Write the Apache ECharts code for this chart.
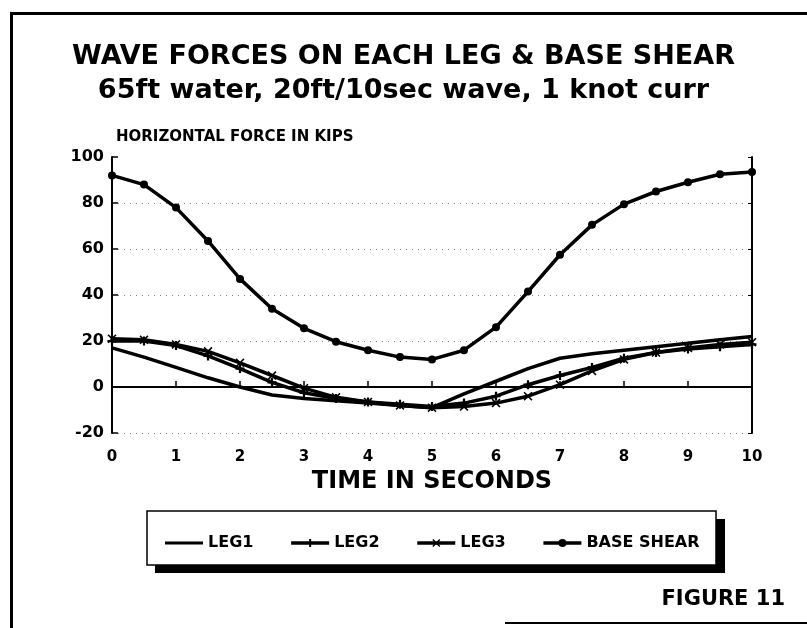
<!DOCTYPE html>
<html>
<head>
<meta charset="utf-8">
<script src="https://cdn.jsdelivr.net/npm/echarts@6/dist/echarts.min.js"></script>
<style>
  html, body { margin: 0; padding: 0; background: #fff; }
  #chart { width: 807px; height: 628px; }
</style>
</head>
<body>
<div id="chart"></div>
<script>
// time in seconds, one point each half second
const times = [0, 0.5, 1, 1.5, 2, 2.5, 3, 3.5, 4, 4.5, 5, 5.5, 6, 6.5, 7, 7.5, 8, 8.5, 9, 9.5, 10];
const leg1 = [17, 13, 8.5, 4, 0, -3.5, -5, -6, -7, -8, -9, -3, 2.5, 8, 12.5, 14.5, 16, 17.5, 19, 20.5, 22];
const leg2 = [20, 20, 18, 13.5, 8, 2, -2.5, -5, -6.5, -7.5, -8.5, -7, -4, 1, 5, 8.5, 12.5, 15, 16.5, 17.5, 18.5];
const leg3 = [21, 20.5, 18.5, 15.5, 10.5, 5, -0.5, -4.5, -6.5, -8, -9, -8.5, -7, -4, 1, 7, 12, 15, 17, 18.5, 19.5];
const baseShear = [92, 88, 78, 63.5, 47, 34, 25.5, 19.7, 16, 13, 12, 16, 26, 41.5, 57.5, 70.5, 79.5, 85, 89, 92.5, 93.5];
const seriesNames = ['LEG1', 'LEG2', 'LEG3', 'BASE SHEAR'];

const FONT = 'DejaVu Sans';

function pairs(vals) {
    return times.map((t, i) => [t, vals[i]]);
}

const chart = echarts.init(document.getElementById('chart'));

const baseLine = {
    type: 'line',
    smooth: false,
    lineStyle: { color: '#000', width: 3.5 },
    itemStyle: { color: '#000' },
    z: 3
};

// plain bar for the LEG1 legend key (tiny corner dots keep the box 38x10)
const plainKey = 'path://M0,3.6H38V6.4H0Z M0,0H0.05V0.05H0Z M37.95,9.95H38V10H37.95Z';

const option = {
    animation: false,
    backgroundColor: '#fff',
    title: [
        {
            text: 'WAVE FORCES ON EACH LEG & BASE SHEAR',
            left: 'center',
            top: 38,
            textStyle: { fontFamily: FONT, fontWeight: 'bold', fontSize: 27, color: '#000' }
        },
        {
            text: '65ft water, 20ft/10sec wave, 1 knot curr',
            left: 'center',
            top: 72,
            textStyle: { fontFamily: FONT, fontWeight: 'bold', fontSize: 27, color: '#000' }
        }
    ],
    grid: { left: 112, right: 55, top: 157, bottom: 195 },
    legend: {
        data: [
            { name: 'LEG1', icon: plainKey },
            'LEG2', 'LEG3', 'BASE SHEAR'
        ],
        left: 160,
        top: 530,
        itemWidth: 38,
        itemHeight: 10,
        itemGap: 36,
        lineStyle: { width: 3.5, color: '#000' },
        textStyle: { fontFamily: FONT, fontWeight: 'bold', fontSize: 16, color: '#000' }
    },
    xAxis: {
        type: 'value',
        min: 0,
        max: 10,
        interval: 1,
        name: 'TIME IN SECONDS',
        nameLocation: 'middle',
        nameGap: 37,
        nameTextStyle: { fontFamily: FONT, fontWeight: 'bold', fontSize: 24, color: '#000' },
        axisLine: { lineStyle: { color: '#000', width: 2 } },
        axisTick: { inside: true, length: 6, lineStyle: { color: '#000', width: 1.5 } },
        axisLabel: { fontFamily: FONT, fontWeight: 'bold', fontSize: 15, color: '#000', margin: 17 },
        splitLine: { show: false }
    },
    yAxis: [
        {
            type: 'value',
            min: -20,
            max: 100,
            interval: 20,
            name: 'HORIZONTAL FORCE IN KIPS',
            nameLocation: 'end',
            nameGap: 12,
            nameTextStyle: {
                fontFamily: FONT, fontWeight: 'bold', fontSize: 15, color: '#000',
                align: 'left', padding: [0, 0, 0, 4]
            },
            axisLine: { show: true, lineStyle: { color: '#000', width: 2 } },
            axisTick: { inside: true, length: 6, lineStyle: { color: '#000', width: 1.5 } },
            axisLabel: { fontFamily: FONT, fontWeight: 'bold', fontSize: 16, color: '#000', margin: 8 },
            splitLine: {
                show: true,
                showMaxLine: false,
                lineStyle: { color: '#888', type: [1, 5], width: 1 }
            }
        },
        {
            type: 'value',
            position: 'right',
            min: -20,
            max: 100,
            interval: 20,
            axisLine: { show: true, lineStyle: { color: '#000', width: 2 } },
            axisTick: { inside: true, length: 4, lineStyle: { color: '#000', width: 1 } },
            axisLabel: { show: false },
            splitLine: { show: false }
        }
    ],
    series: [
        Object.assign({}, baseLine, {
            name: 'LEG1',
            symbol: 'none',
            data: pairs(leg1),
            markLine: {
                silent: true,
                symbol: 'none',
                label: { show: false },
                lineStyle: { color: '#000', width: 2, type: 'solid' },
                data: [{ yAxis: 0 }]
            }
        }),
        Object.assign({}, baseLine, {
            name: 'LEG2',
            symbol: 'path://M3,0H5V3H8V5H5V8H3V5H0V3H3Z',
            symbolSize: 9,
            data: pairs(leg2)
        }),
        Object.assign({}, baseLine, {
            name: 'LEG3',
            symbol: 'path://M0,1L1,0L4,3L7,0L8,1L5,4L8,7L7,8L4,5L1,8L0,7L3,4Z',
            symbolSize: 9,
            data: pairs(leg3)
        }),
        Object.assign({}, baseLine, {
            name: 'BASE SHEAR',
            symbol: 'circle',
            symbolSize: 8,
            data: pairs(baseShear)
        })
    ],
    graphic: [
        // page frame
        { type: 'rect', shape: { x: 10, y: 12, width: 3, height: 616 }, style: { fill: '#000' } },
        { type: 'rect', shape: { x: 10, y: 12, width: 797, height: 3 }, style: { fill: '#000' } },
        { type: 'rect', shape: { x: 505, y: 622, width: 302, height: 2 }, style: { fill: '#000' } },
        // legend box with drop shadow
        { type: 'rect', shape: { x: 155, y: 519, width: 570, height: 54 }, style: { fill: '#000' }, z: -1 },
        { type: 'rect', shape: { x: 147, y: 511, width: 569, height: 54 }, style: { fill: '#fff', stroke: '#000', lineWidth: 1.5 }, z: 0 },
        {
            type: 'text',
            right: 22,
            top: 589,
            style: { text: 'FIGURE 11', font: 'bold 21px "DejaVu Sans"', fill: '#000' }
        }
    ]
};

chart.setOption(option);
</script>
</body>
</html>
